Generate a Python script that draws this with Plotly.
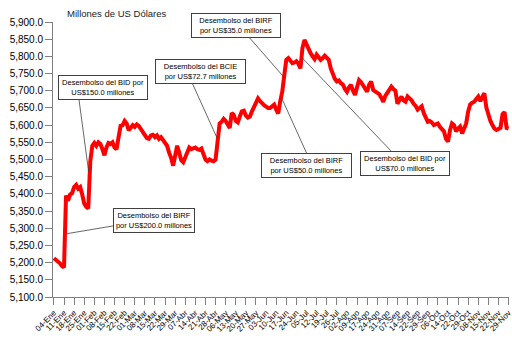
import plotly.graph_objects as go

# Reservas internacionales, serie diaria (millones de US$)
valores = [
    5213, 5208, 5204, 5198, 5190, 5186, 5395, 5380, 5398, 5402,
    5420, 5426, 5415, 5420, 5398, 5372, 5362, 5358, 5495, 5540,
    5548, 5540, 5550, 5545, 5530, 5512, 5535, 5548, 5545, 5550,
    5535, 5530, 5565, 5598, 5600, 5612, 5605, 5585, 5592, 5600,
    5595, 5602, 5598, 5590, 5578, 5570, 5562, 5560, 5570, 5572,
    5565, 5570, 5560, 5565, 5555, 5548, 5540, 5520, 5505, 5482,
    5510, 5540, 5520, 5498, 5492, 5505, 5525, 5535, 5530, 5532,
    5535, 5530, 5528, 5532, 5515, 5500, 5495, 5500, 5497, 5495,
    5500, 5560, 5605, 5610, 5618, 5612, 5600, 5592, 5635, 5630,
    5612, 5608, 5625, 5640, 5642, 5628, 5622, 5625, 5640, 5652,
    5665, 5678, 5670, 5662, 5658, 5654, 5650, 5650, 5656, 5660,
    5645, 5634, 5670, 5697, 5745, 5790, 5795, 5788, 5780, 5782,
    5786, 5778, 5765, 5825, 5848, 5835, 5820, 5810, 5800, 5792,
    5805, 5798, 5790, 5795, 5802, 5796, 5790, 5765, 5748, 5735,
    5727, 5730, 5722, 5718, 5705, 5697, 5710, 5717, 5700, 5688,
    5710, 5731, 5725, 5717, 5708, 5697, 5718, 5727, 5702, 5698,
    5693, 5690, 5680, 5668, 5685, 5695, 5705, 5712, 5705, 5700,
    5662, 5675, 5683, 5672, 5668, 5683, 5678, 5672, 5662, 5656,
    5645, 5650, 5655, 5635, 5622, 5610, 5612, 5608, 5600, 5603,
    5605, 5595, 5588, 5582, 5560, 5552, 5585, 5605, 5600, 5582,
    5590, 5596, 5576, 5588, 5605, 5640, 5660, 5665, 5668, 5676,
    5683, 5670, 5680, 5693, 5651, 5625, 5612, 5600, 5590, 5586,
    5588, 5592, 5632, 5638, 5592, 5590,
]
dias = list(range(len(valores)))

# Etiquetas semanales (una cada 5 días hábiles)
fechas = [
    "04-Ene", "11-Ene", "18-Ene", "25-Ene", "01-Feb", "08-Feb", "15-Feb", "22-Feb",
    "01-Mar", "08-Mar", "15-Mar", "22-Mar", "29-Mar", "07-Abr", "14-Abr", "21-Abr",
    "28-Abr", "06-May", "13-May", "20-May", "27-May", "03-Jun", "10-Jun", "17-Jun",
    "24-Jun", "05-Jul", "12-Jul", "19-Jul", "26-Jul", "02-Ago", "09-Ago", "17-Ago",
    "24-Ago", "31-Ago", "07-Sep", "14-Sep", "22-Sep", "29-Sep", "06-Oct", "14-Oct",
    "22-Oct", "29-Oct", "08-Nov", "15-Nov", "22-Nov", "29-Nov",
]
posiciones = [5 * i for i in range(len(fechas))]

y_ticks = [5100 + 50 * i for i in range(17)]
y_texto = [f"{v:,.1f}" for v in y_ticks]

# Notas: texto, centro de la caja (día, valor), ancho de la caja en px,
# punto de anclaje en la caja y punto en la serie
notas = [
    ("Desembolso del BID por<br>US$150.0 millones", (24.1, 5710), 84, (12.3, 5679), (17.2, 5464)),
    ("Desembolso del BIRF<br>por US$200.0 millones", (49.7, 5324), 76, (29.5, 5307), (6.25, 5284)),
    ("Desembolso del BCIE<br>por US$72.7 millones", (72.6, 5756), 85, (68.4, 5723), (80.7, 5563)),
    ("Desembolso del BIRF<br>por US$35.0 millones", (90.0, 5891), 84, (96.5, 5856), (114.2, 5737)),
    ("Desembolso del BIRF<br>por US$50.0 millones", (125.2, 5484), 85, (125.0, 5519), (112.7, 5679)),
    ("Desembolso del BID por<br>US$70.0 millones", (173.7, 5488), 84, (166.8, 5525), (122.5, 5798)),
]

FUENTE = "Liberation Sans, Arial, sans-serif"

fig = go.Figure()
fig.add_trace(go.Scatter(
    x=dias, y=valores, mode="lines",
    line=dict(color="#FF0000", width=4),
    hoverinfo="skip", showlegend=False,
))

shapes = []
annotations = []
for texto, (cx, cy), ancho, (ax0, ay0), (px, py) in notas:
    shapes.append(dict(type="line", xref="x", yref="y", x0=ax0, y0=ay0, x1=px, y1=py,
                       line=dict(color="#404040", width=0.8), layer="above"))
    annotations.append(dict(
        x=cx, y=cy, xref="x", yref="y", text=texto, showarrow=False,
        font=dict(family=FUENTE, size=7.5, color="#000000"),
        bgcolor="#FFFFFF", bordercolor="#404040", borderwidth=1, borderpad=2,
        width=ancho, xanchor="center", yanchor="middle", align="center",
    ))

annotations.append(dict(
    xref="paper", yref="paper", x=(65 - 53) / 456, y=(297 - 13) / 275,
    xanchor="left", yanchor="middle", text="Millones de US Dólares",
    showarrow=False, font=dict(family=FUENTE, size=9.5, color="#222222"),
))

fig.update_layout(
    width=512, height=339,
    margin=dict(l=53, r=3, t=22, b=42),
    paper_bgcolor="#FFFFFF", plot_bgcolor="#FFFFFF",
    shapes=shapes, annotations=annotations,
    font=dict(family=FUENTE, color="#000000"),
)
fig.update_xaxes(
    range=[-0.45, 225.2], tickmode="array", tickvals=posiciones, ticktext=fechas,
    tickangle=-45, tickfont=dict(size=8), ticks="outside", ticklen=7,
    ticklabeloverflow="allow", automargin=False,
    tickcolor="#808080", showline=True, linecolor="#808080", linewidth=1,
    showgrid=False, zeroline=False, fixedrange=True,
)
fig.update_yaxes(
    range=[5100, 5900], tickmode="array", tickvals=y_ticks, ticktext=y_texto,
    tickfont=dict(size=10), ticks="outside", ticklen=7, automargin=False,
    tickcolor="#808080", showline=True, linecolor="#808080", linewidth=1,
    showgrid=False, zeroline=False, fixedrange=True,
)

fig.write_html("out.html", config={"displayModeBar": False})
